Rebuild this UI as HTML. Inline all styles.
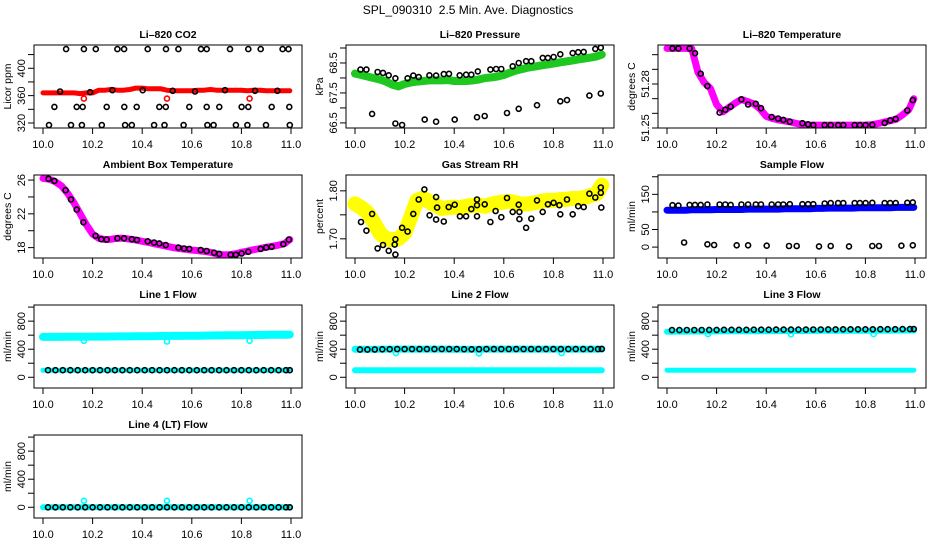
<!DOCTYPE html>
<html><head><meta charset="utf-8"><style>
html,body{margin:0;padding:0;background:#fff}
svg{display:block;font-family:"Liberation Sans",sans-serif}
</style></head><body>
<svg id="chart" width="936" height="540" viewBox="0 0 936 540" xmlns="http://www.w3.org/2000/svg">
<rect width="936" height="540" fill="#fff"/>
<text x="468" y="14" text-anchor="middle" font-size="12">SPL_090310&#160; 2.5 Min. Ave. Diagnostics</text>
</svg>
<script>
const xTicks=[10.0,10.2,10.4,10.6,10.8,11.0];
const xTickLabels=["10.0","10.2","10.4","10.6","10.8","11.0"];
const denseT=[10.0,10.025,10.05,10.075,10.1,10.125,10.15,10.175,10.2,10.225,10.25,10.275,10.3,10.325,10.35,10.375,10.4,10.425,10.45,10.475,10.5,10.525,10.55,10.575,10.6,10.625,10.65,10.675,10.7,10.725,10.75,10.775,10.8,10.825,10.85,10.875,10.9,10.925,10.95,10.975,10.995];
const flowT=[10.02,10.05,10.08,10.11,10.14,10.17,10.2,10.23,10.26,10.29,10.32,10.35,10.38,10.41,10.44,10.47,10.5,10.53,10.56,10.59,10.62,10.65,10.68,10.71,10.74,10.77,10.8,10.83,10.86,10.89,10.92,10.95,10.98,10.995];
const dipT=[10.165,10.5,10.833];
// CO2
const co2Red=[364,364,364,364,364,364,363,364,364,368,368,369,368,368,369,371,371,370,370,370,368,367,367,367,367,368,368,369,368,368,368,368,368,367,368,368,367,367,367,367,367];
const co2RedOutY=[355.6,355.6,355.6];
const co2TopT=[10.093,10.165,10.213,10.30,10.327,10.422,10.496,10.546,10.637,10.66,10.754,10.828,10.878,10.966,10.99];
const co2TopV=[428,428,428,428,428,428,428,428,428,428,428,428,428,428,428];
const co2MidT=[10.046,10.136,10.16,10.257,10.328,10.378,10.469,10.495,10.59,10.66,10.711,10.801,10.828,10.922,10.993];
const co2MidV=[343.5,343.5,343.5,343.5,343.5,343.5,343.5,343.5,343.5,343.5,343.5,343.5,343.5,343.5,343.5];
const co2BotT=[10.024,10.113,10.157,10.237,10.331,10.358,10.448,10.49,10.567,10.663,10.688,10.778,10.824,10.899,10.995];
const co2BotV=[317,317,317,317,317,317,317,317,317,317,317,317,317,317,317];
const co2LevT=[10.069,10.19,10.28,10.402,10.523,10.613,10.734,10.855,10.945];
const co2LevV=[366,365,368,368,367,366,368,367,367];
// Pressure
const presGreen=[68.15,68.1,68.05,68.0,67.95,67.88,67.78,67.72,67.8,67.85,67.88,67.9,67.92,67.92,67.92,67.93,67.9,67.9,67.9,67.92,67.95,68.0,68.02,68.05,68.1,68.18,68.25,68.3,68.35,68.38,68.42,68.45,68.48,68.52,68.55,68.58,68.62,68.65,68.68,68.72,68.78];
const upT=[10.022,10.046,10.091,10.113,10.136,10.163,10.212,10.235,10.257,10.30,10.327,10.358,10.379,10.422,10.448,10.469,10.495,10.546,10.569,10.59,10.636,10.66,10.69,10.711,10.757,10.778,10.801,10.828,10.878,10.9,10.922,10.969,10.991];
const presUpV=[68.28,68.28,68.2,68.17,68.09,67.99,67.99,68.08,68.03,68.09,68.08,68.13,68.14,68.09,68.11,68.11,68.22,68.28,68.3,68.3,68.39,68.5,68.56,68.56,68.67,68.67,68.7,68.79,68.83,68.86,68.87,68.97,69.01];
const lowT=[10.069,10.163,10.19,10.281,10.327,10.402,10.492,10.523,10.613,10.66,10.734,10.828,10.855,10.945,10.991];
const presLowV=[66.8,66.48,66.43,66.61,66.54,66.61,66.69,66.73,66.83,66.97,67.09,67.22,67.26,67.41,67.48];
// Li-820 temperature
const tempMag=[51.3043,51.3043,51.3043,51.3043,51.304,51.288,51.281,51.277,51.266,51.261,51.264,51.267,51.2695,51.268,51.2665,51.263,51.258,51.2565,51.2555,51.2548,51.254,51.253,51.2523,51.252,51.252,51.252,51.252,51.252,51.252,51.252,51.252,51.252,51.252,51.2522,51.253,51.254,51.255,51.256,51.259,51.2625,51.270];
const tempBlkV=[51.3043,51.3043,51.3043,51.301,51.287,51.2786,51.2605,51.2625,51.2645,51.2695,51.266,51.2665,51.2635,51.2575,51.2565,51.2555,51.2543,51.2533,51.2525,51.252,51.252,51.252,51.252,51.252,51.252,51.252,51.252,51.2522,51.2535,51.2552,51.2562,51.262,51.269];
// Ambient
const ambMag=[26.2,26.1,25.8,25.3,24.4,23.3,22.0,20.7,19.6,19.1,18.95,19.0,19.1,19.1,19.0,18.9,18.75,18.6,18.45,18.3,18.15,18.0,17.9,17.8,17.7,17.65,17.55,17.45,17.25,17.15,17.15,17.25,17.45,17.6,17.75,17.9,18.05,18.15,18.3,18.5,18.95];
const ambBlkV=[26.15,25.9,24.8,23.7,22.5,21.0,19.4,19.0,18.95,19.1,19.1,19.0,18.9,18.75,18.6,18.5,18.3,18.0,17.9,17.85,17.7,17.6,17.4,17.25,17.15,17.15,17.3,17.5,17.85,18.0,18.1,18.4,18.95];
// RH
const rhYel=[1.773,1.765,1.755,1.735,1.712,1.700,1.698,1.700,1.712,1.745,1.780,1.785,1.777,1.770,1.763,1.765,1.766,1.765,1.768,1.770,1.770,1.768,1.772,1.775,1.777,1.778,1.775,1.772,1.773,1.775,1.778,1.780,1.780,1.782,1.782,1.784,1.784,1.786,1.790,1.794,1.812];
const rhBlkT=[10.024,10.046,10.069,10.091,10.113,10.136,10.16,10.163,10.163,10.19,10.212,10.235,10.257,10.28,10.301,10.327,10.327,10.331,10.358,10.378,10.402,10.423,10.448,10.469,10.492,10.492,10.492,10.523,10.546,10.567,10.59,10.613,10.636,10.66,10.663,10.663,10.69,10.711,10.734,10.757,10.778,10.801,10.824,10.828,10.855,10.878,10.9,10.922,10.945,10.969,10.991,10.991,10.993];
const rhBlkV=[1.735,1.717,1.752,1.68,1.687,1.675,1.688,1.667,1.699,1.723,1.715,1.752,1.782,1.803,1.749,1.787,1.74,1.765,1.736,1.766,1.771,1.747,1.747,1.762,1.77,1.782,1.747,1.772,1.735,1.758,1.745,1.785,1.756,1.771,1.756,1.741,1.723,1.742,1.78,1.756,1.772,1.775,1.77,1.751,1.782,1.751,1.768,1.766,1.794,1.786,1.807,1.796,1.765];
// Sample flow
const sampBlue=[105,105,105,105,106,106,106,106,107,107,107,107,107,108,108,108,108,108,108,109,109,109,109,109,110,110,111,111,111,111,111,112,112,112,112,112,112,113,113,113,113];
const sampUpV=[119,118,120,120,120,121,121,121,120,121,121,121,121,121,121,121,122,122,122,122,124,125,125,125,125,125,125,126,125,125,125,126,127];
const sampLowV=[13,8,6,5,5,4,3,3,2,3,2,3,3,4,5];
// Flows
const lowCyan=[100,100,100,100,100,100,100,100,100,100,100,100,100,100,100,100,100,100,100,100,100,100,100,100,100,100,100,100,100,100,100,100,100,100,100,100,100,100,100,100,100];
const l1Cyan=[575,575,576,576,577,577,578,578,579,580,580,581,582,582,583,584,585,586,587,588,588,589,590,591,592,593,594,595,596,597,598,599,600,601,602,603,604,605,606,607,608];
const l1Dip=[520,510,520];
const l1Blk=[100,100,100,100,100,100,100,100,100,100,100,100,100,100,100,100,100,100,100,100,100,100,100,100,100,100,100,100,100,100,100,100,100,100];
const l2Cyan=[400,398,398,399,400,402,402,402,401,401,401,401,401,401,401,401,400,399,398,399,400,401,402,402,402,402,402,402,402,402,402,402,402,402,402,402,402,402,402,402,402];
const l2Dip=[345,340,345];
const l2Blk=[395,395,396,398,400,402,402,402,402,402,402,402,402,402,400,398,400,402,402,402,402,402,402,402,402,402,402,402,402,402,402,402,402,405];
const l3Cyan=[650,650,651,651,652,652,653,653,654,654,655,655,656,656,657,657,657,658,658,659,659,660,660,661,661,662,662,662,663,663,663,664,664,664,665,665,665,666,666,666,666];
const l3Dip=[615,612,615];
const l3Blk=[672,672,673,673,674,675,675,676,676,677,677,678,678,678,679,679,680,680,680,681,681,682,682,683,683,684,684,684,685,685,685,686,686,686];
const l4Cyan=[0,0,0,0,0,0,0,0,0,0,0,0,0,0,0,0,0,0,0,0,0,0,0,0,0,0,0,0,0,0,0,0,0,0,0,0,0,0,0,0,0];
const l4Dip=[92,92,92];
const l4Blk=[0,0,0,0,0,0,0,0,0,0,0,0,0,0,0,0,0,0,0,0,0,0,0,0,0,0,0,0,0,0,0,0,0,0];

const NS="http://www.w3.org/2000/svg";
const svg=document.getElementById('chart');
function el(tag,attrs,parent){const e=document.createElementNS(NS,tag);for(const k in attrs)e.setAttribute(k,attrs[k]);(parent||svg).appendChild(e);return e;}

function panel(col,row,cfg){
  const bx=34+312*col, bw=268, by=45+130*row, bh=83;
  const g=el('g',{});
  
  
  const X=v=>43+312*col+(v-10)*248;
  const Y=v=>by+bh-(v-cfg.ymin)/(cfg.ymax-cfg.ymin)*bh;
  const t=el('text',{x:bx+bw/2,y:by-7,'text-anchor':'middle','font-size':'10.5','font-weight':'bold'},g);
  t.textContent=cfg.title;
  
  
  const clipId='clip'+col+row;
  const cp=el('clipPath',{id:clipId},g);el('rect',{x:bx,y:by,width:bw,height:bh},cp);
  const sg=el('g',{'clip-path':'url(#'+clipId+')'},g);
  cfg.series.forEach(s=>{
    if(s.band){
      const pts=s.t.map((tt,i)=>X(tt).toFixed(1)+','+Y(s.v[i]).toFixed(1)).join(' ');
      const pl=el('polyline',{points:pts,fill:'none',stroke:s.color,'stroke-width':s.w,'stroke-linejoin':'round','stroke-linecap':'round'},sg);
      
      
    } else {
      s.t.forEach((tt,i)=>{
        const c=el('circle',{cx:X(tt).toFixed(1),cy:Y(s.v[i]).toFixed(1),r:2.5,fill:'none',stroke:s.color,'stroke-width':1.6},sg);
        
        
      });
    }
  });
  const box=el('rect',{x:bx,y:by,width:bw,height:bh,fill:'none',stroke:'#000','stroke-width':1},g);
  
  
  const xa=el('g',{},g);
  
  
  el('line',{x1:X(xTicks[0]),x2:X(xTicks[xTicks.length-1]),y1:by+bh,y2:by+bh,stroke:'#000'},xa);
  xTicks.forEach((v,i)=>{
    el('line',{x1:X(v),x2:X(v),y1:by+bh,y2:by+bh+6,stroke:'#000'},xa);
    const tl=el('text',{x:X(v),y:by+bh+20,'text-anchor':'middle','font-size':'11'},xa);
    tl.textContent=xTickLabels[i];
  });
  const ya=el('g',{},g);
  
  
  el('line',{x1:bx,x2:bx,y1:Y(cfg.yt[0]),y2:Y(cfg.yt[cfg.yt.length-1]),stroke:'#000'},ya);
  cfg.yt.forEach(v=>{el('line',{x1:bx-6,x2:bx,y1:Y(v),y2:Y(v),stroke:'#000'},ya);});
  cfg.yl.forEach((v,i)=>{
    const tx=bx-9, ty=Y(v);
    const tl=el('text',{x:tx,y:ty,'text-anchor':'middle','font-size':'11',transform:'rotate(-90 '+tx+' '+ty+')'},ya);
    tl.textContent=cfg.ylt[i];
  });
  const tx=bx-23, ty=by+bh/2;
  const yt=el('text',{x:tx,y:ty,'text-anchor':'middle','font-size':'10.5',transform:'rotate(-90 '+tx+' '+ty+')'},g);
  yt.textContent=cfg.ylab;
  
  
}
const B='#000';
panel(0,0,{name:'co2',title:'Li\u2013820 CO2',ylab:'Licor ppm',ymin:312.7,ymax:434,yt:[320,340,360,380,400,420],yl:[320,360,400],ylt:['320','360','400'],
 series:[{band:1,t:denseT,v:co2Red,color:'#f00',w:5,name:'co2-red'},{t:dipT,v:co2RedOutY,color:'#f00',name:'co2-red-outlier'},
 {t:co2TopT,v:co2TopV,color:B,name:'co2-black-top'},{t:co2MidT,v:co2MidV,color:B,name:'co2-black-mid'},{t:co2BotT,v:co2BotV,color:B,name:'co2-black-bottom'},{t:co2LevT,v:co2LevV,color:B,name:'co2-black-level'}]});
panel(1,0,{name:'pressure',title:'Li\u2013820 Pressure',ylab:'kPa',ymin:66.33,ymax:69.1,yt:[66.5,67,67.5,68,68.5,69],yl:[66.5,67.5,68.5],ylt:['66.5','67.5','68.5'],
 series:[{band:1,t:denseT,v:presGreen,color:'#1ec81e',w:8,name:'pressure-green'},{t:upT,v:presUpV,color:B,name:'pressure-black-upper'},{t:lowT,v:presLowV,color:B,name:'pressure-black-lower'}]});
panel(2,0,{name:'li820-temp',title:'Li\u2013820 Temperature',ylab:'degrees C',ymin:51.25,ymax:51.3066,yt:[51.25,51.26,51.27,51.28,51.29,51.30],yl:[51.25,51.28],ylt:['51.25','51.28'],
 series:[{band:1,t:denseT,v:tempMag,color:'#f0f',w:7,name:'li820-temp-magenta'},{t:upT,v:tempBlkV,color:B,name:'li820-temp-black'}]});
panel(0,1,{name:'ambient',title:'Ambient Box Temperature',ylab:'degrees C',ymin:16.77,ymax:26.6,yt:[18,20,22,24,26],yl:[18,22,26],ylt:['18','22','26'],
 series:[{band:1,t:denseT,v:ambMag,color:'#f0f',w:7,name:'ambient-magenta'},{t:upT,v:ambBlkV,color:B,name:'ambient-black'}]});
panel(1,1,{name:'rh',title:'Gas Stream RH',ylab:'percent',ymin:1.66,ymax:1.833,yt:[1.70,1.75,1.80],yl:[1.70,1.80],ylt:['1.70','1.80'],
 series:[{band:1,t:denseT,v:rhYel,color:'#ff0',w:15,name:'rh-yellow'},{t:rhBlkT,v:rhBlkV,color:B,name:'rh-black'}]});
panel(2,1,{name:'sample-flow',title:'Sample Flow',ylab:'ml/min',ymin:-31,ymax:205,yt:[0,50,100,150,200],yl:[0,50,150],ylt:['0','50','150'],
 series:[{band:1,t:denseT,v:sampBlue,color:'#00f',w:7,name:'sample-flow-blue'},{t:upT,v:sampUpV,color:B,name:'sample-flow-black-upper'},{t:lowT,v:sampLowV,color:B,name:'sample-flow-black-lower'}]});
const fy={ymin:-153,ymax:1030,yt:[0,200,400,600,800,1000],yl:[0,400,800],ylt:['0','400','800'],ylab:'ml/min'};
const C='#0ff';
panel(0,2,Object.assign({name:'line1-flow',title:'Line 1 Flow',series:[{band:1,t:denseT,v:l1Cyan,color:C,w:8,name:'line1-cyan'},{t:dipT,v:l1Dip,color:C,name:'line1-cyan-dip'},{band:1,t:denseT,v:lowCyan,color:C,w:5,name:'line1-cyan-low'},{t:flowT,v:l1Blk,color:B,name:'line1-black'}]},fy));
panel(1,2,Object.assign({name:'line2-flow',title:'Line 2 Flow',series:[{band:1,t:denseT,v:l2Cyan,color:C,w:7,name:'line2-cyan'},{t:dipT,v:l2Dip,color:C,name:'line2-cyan-dip'},{band:1,t:denseT,v:lowCyan,color:C,w:6,name:'line2-cyan-low'},{t:flowT,v:l2Blk,color:B,name:'line2-black'}]},fy));
panel(2,2,Object.assign({name:'line3-flow',title:'Line 3 Flow',series:[{band:1,t:denseT,v:l3Cyan,color:C,w:6,name:'line3-cyan'},{t:dipT,v:l3Dip,color:C,name:'line3-cyan-dip'},{band:1,t:denseT,v:lowCyan,color:C,w:5,name:'line3-cyan-low'},{t:flowT,v:l3Blk,color:B,name:'line3-black'}]},fy));
panel(0,3,Object.assign({name:'line4-flow',title:'Line 4 (LT) Flow',series:[{band:1,t:denseT,v:l4Cyan,color:C,w:6,name:'line4-cyan'},{t:dipT,v:l4Dip,color:C,name:'line4-cyan-dip'},{t:flowT,v:l4Blk,color:B,name:'line4-black'}]},fy));
</script>
</body></html>
